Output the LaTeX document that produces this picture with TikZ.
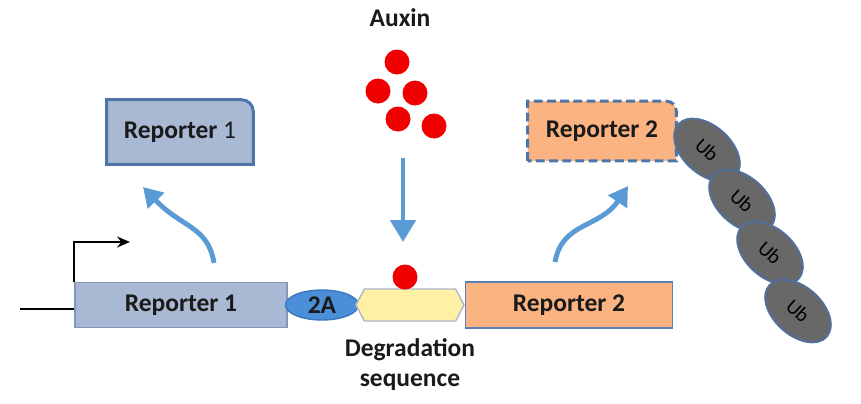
\documentclass[tikz,border=0pt]{standalone}
\usepackage{fontspec}
\setsansfont{Carlito}
\renewcommand{\familydefault}{\sfdefault}
\usepackage{tikz}
\usetikzlibrary{positioning}
\usetikzlibrary{shapes.geometric,shapes.symbols}
\usetikzlibrary{arrows.meta,backgrounds}

\definecolor{repAfill}{HTML}{A9B9D3}
\definecolor{repAline}{HTML}{8197BD}
\definecolor{outAline}{HTML}{4C76AA}
\definecolor{twoAfill}{HTML}{4A8FD8}
\definecolor{twoAline}{HTML}{3B78BE}
\definecolor{degrfill}{HTML}{FFF1A3}
\definecolor{degrline}{HTML}{A9B7C9}
\definecolor{repBfill}{HTML}{FBB381}
\definecolor{repBline}{HTML}{5A80B3}
\definecolor{flowblue}{HTML}{5B9BD5}
\definecolor{auxred}{HTML}{F00000}
\definecolor{ubfill}{HTML}{686868}
\definecolor{ubline}{HTML}{52709C}
\definecolor{ink}{HTML}{1A1A1A}

\begin{document}
\begin{tikzpicture}[
    x=0.02cm, y=-0.02cm,
    font=\fontsize{14.5}{17}\selectfont\bfseries, text=ink,
    rep1box/.style={draw=repAline, fill=repAfill, line width=0.9pt, minimum width=4.24cm, minimum height=0.9cm},
    rep2box/.style={draw=repBline, fill=repBfill, line width=0.9pt, minimum width=4.14cm, minimum height=0.92cm},
    twoa/.style={ellipse, draw=twoAline, fill=twoAfill, line width=0.8pt, minimum width=1.46cm, minimum height=0.6cm, inner sep=0pt},
    degron/.style={signal, signal to=east and west, signal pointer angle=125, draw=degrline, fill=degrfill, line width=0.8pt, minimum width=2.16cm, minimum height=0.64cm, inner sep=0pt},
    auxin/.style={circle, fill=auxred, minimum size=0.5cm, inner sep=0pt},
    ub/.style={ellipse, draw=ubline, fill=ubfill, line width=1.1pt, minimum width=1.54cm, minimum height=0.96cm, inner sep=0pt, rotate=-42, text=black, font=\fontsize{11.5}{13}\selectfont},
    flow/.style={draw=flowblue, line width=2.8pt, -{Triangle[width=0.5cm,length=0.44cm]}},
    upflow/.style={draw=flowblue, line width=2.8pt, -{Triangle[width=0.44cm,length=0.38cm]}}
    ]

    \useasboundingbox (0,0) rectangle (861,403);

    % auxin
    \node (auxlbl) at (400,18) {Auxin};
    \node[auxin] (a1) at (397,62) {};
    \node[auxin] (a2) at (378,91) {};
    \node[auxin] (a3) at (415,93) {};
    \node[auxin] (a4) at (398,119) {};
    \node[auxin] (a5) at (434,126) {};

    % construct
    \node[rep1box] (rep1) at (181,305) {Reporter 1};
    \node[twoa, right=-0.06cm of rep1] (twoA) {2A};
    \node[degron, right=-0.08cm of twoA] (degr) {};
    \node[rep2box, right=0cm of degr] (rep2) {Reporter 2};
    \node[auxin] (bound) at (405,277) {};
    \node[align=center, below=0.22cm of degr] (degrlbl) {Degradation\\sequence};

    \coordinate (dna) at (20,309);
    \coordinate (tss) at (130,242);
    \draw[line width=1.1pt] (dna) -- (dna -| rep1.west);
    \draw[line width=1.1pt, -{Stealth[length=0.26cm,width=0.22cm]}] (rep1.north west) |- (tss);

    % products
    \node[minimum width=2.92cm, minimum height=1.28cm] (out1) at (180,132) {Reporter {\mdseries 1}};
    \node[minimum width=2.96cm, minimum height=1.18cm] (out2) at (602,131) {Reporter 2};
    \begin{scope}[on background layer]
      \filldraw[draw=outAline, fill=repAfill, line width=1.7pt] (out1.south west) -- (out1.north west)
        -- ([xshift=-0.24cm]out1.north east) arc[start angle=90, end angle=0, radius=0.24cm] -- (out1.south east) -- cycle;
      \filldraw[draw=outAline, fill=repBfill, line width=1.7pt, dash pattern=on 5pt off 2.5pt] (out2.south west) -- (out2.north west)
        -- ([xshift=-0.2cm]out2.north east) arc[start angle=90, end angle=0, radius=0.2cm] -- (out2.south east) -- cycle;
    \end{scope}

    \node[ub] (ub1) at (707,150) {Ub};
    \node[ub] (ub2) at (742,201) {Ub};
    \node[ub] (ub3) at (770,253) {Ub};
    \node[ub] (ub4) at (798,311) {Ub};

    % arrows
    \coordinate (dropA) at (403,158);
    \coordinate (dropB) at (403,242);
    \coordinate (up1s) at (214,263);
    \coordinate (up1e) at (143,187);
    \coordinate (up2s) at (555,262);
    \coordinate (up2e) at (628,186);
    \draw[flow] (dropA) -- (dropB);
    \draw[upflow] (up1s) .. controls (208,226) and (182,228) .. (up1e);
    \draw[upflow] (up2s) .. controls (562,222) and (600,228) .. (up2e);

  \end{tikzpicture}
\end{document}
